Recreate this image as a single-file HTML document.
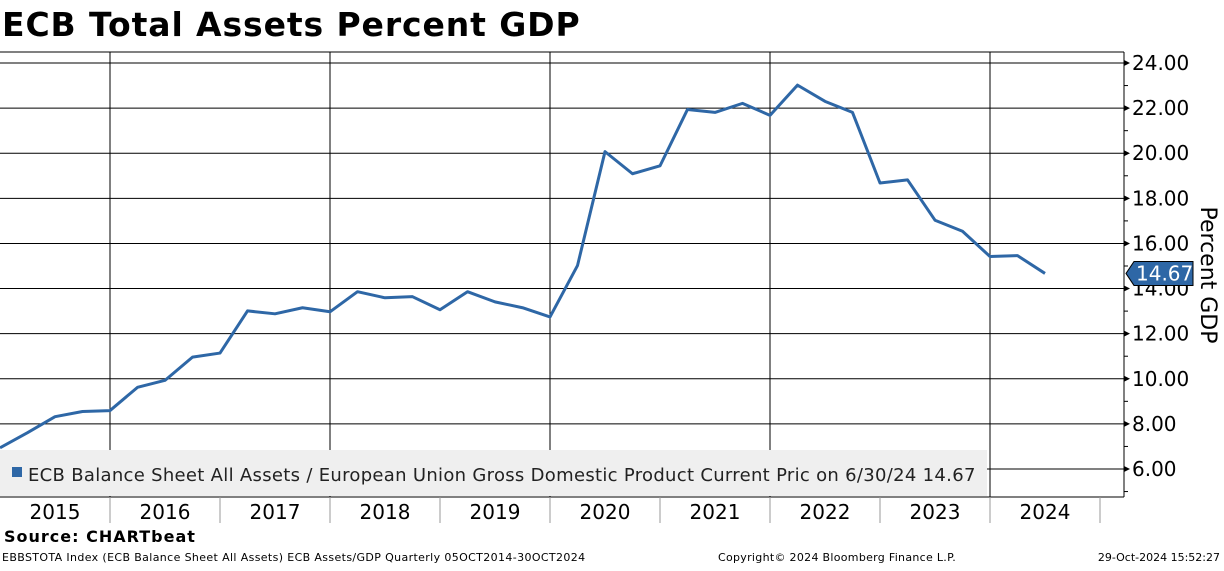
<!DOCTYPE html>
<html><head><meta charset="utf-8"><style>
body{margin:0;background:#fff;width:1224px;height:566px;overflow:hidden;font-family:"Liberation Sans","DejaVu Sans",sans-serif}
</style></head><body>
<svg width="1224" height="566" xmlns="http://www.w3.org/2000/svg" font-family="'DejaVu Sans','Liberation Sans',sans-serif">
<text x="2" y="36" font-size="33" font-weight="bold" letter-spacing="0.9">ECB Total Assets Percent GDP</text>
<g id="grid"></g>
<rect x="0" y="450" width="987" height="46" fill="#efefef"/>
<rect x="12" y="467" width="10" height="10" fill="#2e67a6"/>
<text x="28" y="481" font-size="18" fill="#222" letter-spacing="0.3">ECB Balance Sheet All Assets / European Union Gross Domestic Product Current Pric on 6/30/24 14.67</text>
<g id="marks"></g>
<text transform="translate(1201,275) rotate(90)" text-anchor="middle" font-size="22">Percent GDP</text>
<text x="4" y="542" font-size="16" font-weight="bold" letter-spacing="1">Source: CHARTbeat</text>
<text x="2" y="561" font-size="11" letter-spacing="0.37">EBBSTOTA Index (ECB Balance Sheet All Assets) ECB Assets/GDP  Quarterly 05OCT2014-30OCT2024</text>
<text x="718" y="561" font-size="11" letter-spacing="0.3">Copyright© 2024 Bloomberg Finance L.P.</text>
<text x="1220" y="561" font-size="11" text-anchor="end">29-Oct-2024 15:52:27</text>
</svg>
<script>
const years=["2015","2016","2017","2018","2019","2020","2021","2022","2023","2024"];
const yTicks=[6,8,10,12,14,16,18,20,22,24];
const values=[6.94,7.61,8.32,8.55,8.59,9.62,9.93,10.96,11.14,13.01,12.88,13.15,12.97,13.86,13.59,13.64,13.06,13.86,13.41,13.15,12.74,15.02,20.07,19.09,19.44,21.94,21.81,22.21,21.68,23.02,22.30,21.81,18.68,18.82,17.03,16.54,15.42,15.46,14.67];
const lastLabel="14.67";
const NS="http://www.w3.org/2000/svg";
const X0=0,QW=27.5,AX=1124,TOP=52,BOT=497;
const xs=i=>X0+i*QW;
const ys=v=>469-(v-6)*(406/18);
function mk(t,a,p){const e=document.createElementNS(NS,t);for(const k in a)e.setAttribute(k,a[k]);p.appendChild(e);return e;}
const g=document.getElementById('grid'),m=document.getElementById('marks');
mk('line',{x1:0,y1:TOP,x2:AX,y2:TOP,stroke:'#000','stroke-width':1},g);
mk('line',{x1:0,y1:BOT,x2:AX,y2:BOT,stroke:'#000','stroke-width':1},g);
mk('line',{x1:AX,y1:TOP,x2:AX,y2:BOT,stroke:'#000','stroke-width':1},g);
for(let v=5;v<=24;v++){const y=ys(v);const l=mk('line',{x1:AX,y1:y,x2:AX+4,y2:y,stroke:'#000'},g);}
yTicks.forEach(v=>{const y=ys(v);
const l=mk('line',{x1:0,y1:y,x2:AX,y2:y,stroke:'#000','stroke-width':1},g);

const a=mk('path',{d:`M${AX} ${y-3}L${AX+6} ${y}L${AX} ${y+3}Z`,fill:'#000'},g);

const t=mk('text',{x:AX+8,y:y+7,'font-size':20},g);t.textContent=v.toFixed(2);
});
years.forEach((yr,i)=>{const x0=i*110;
if(i%2==1){const l=mk('line',{x1:x0,y1:TOP,x2:x0,y2:BOT,stroke:'#000'},g);}
const s=mk('line',{x1:x0+110,y1:BOT,x2:x0+110,y2:523,stroke:'#999'},g);
const t=mk('text',{x:x0+55,y:519,'font-size':20,'text-anchor':'middle'},g);t.textContent=yr;
});
const p=mk('polyline',{points:values.map((v,i)=>xs(i)+','+ys(v)).join(' '),fill:'none',stroke:'#2e67a6','stroke-width':3,'stroke-linejoin':'round'},m);

const ly=ys(values[values.length-1]);
const c=mk('path',{d:`M${AX+2} ${ly}L${AX+10} ${ly-12}H1193V${ly+12}H${AX+10}Z`,fill:'#2e67a6',stroke:'#000','stroke-width':1},m);

const ct=mk('text',{x:AX+12,y:ly+7,'font-size':20,fill:'#fff'},m);ct.textContent=lastLabel;

</script>
</body></html>
